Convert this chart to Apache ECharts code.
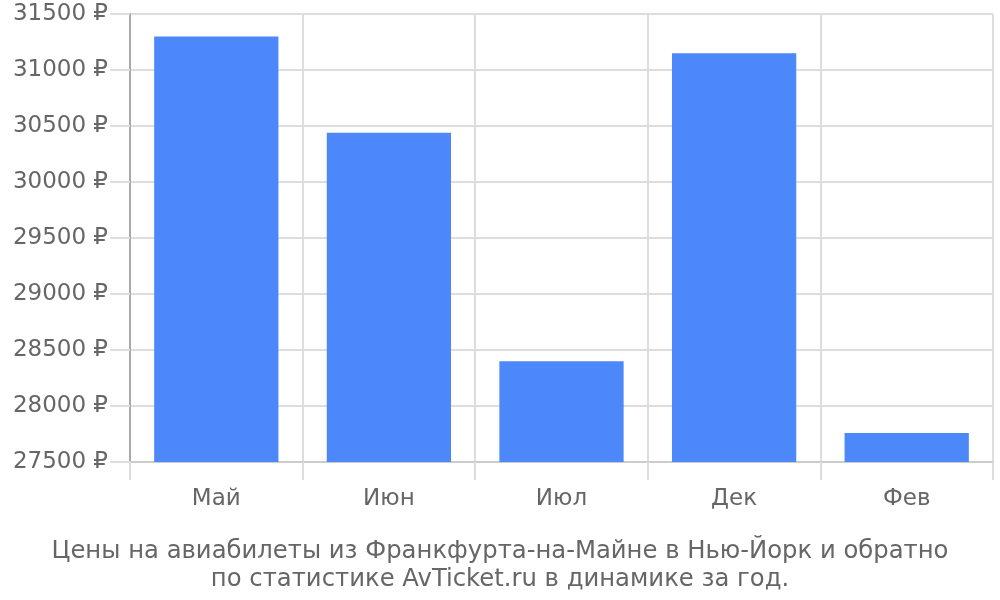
<!DOCTYPE html>
<html><head><meta charset="utf-8">
<script src="https://cdn.jsdelivr.net/npm/echarts@6/dist/echarts.min.js"></script>
<style>html,body{margin:0;padding:0;background:#fff}#c{width:1000px;height:600px}</style>
</head><body><div id="c"></div>
<script>
const categories = ["Май", "Июн", "Июл", "Дек", "Фев"];
const prices = [31300, 30440, 28400, 31150, 27760];
const yMin = 27500, yMax = 31500, yStep = 500;
const titleLines = ["Цены на авиабилеты из Франкфурта-на-Майне в Нью-Йорк и обратно", "по статистике AvTicket.ru в динамике за год."];

const chart = echarts.init(document.getElementById('c'), null, {renderer: 'canvas'});
const font = 'DejaVu Sans';
chart.setOption({
  animation: false,
  textStyle: {fontFamily: font},
  title: {
    text: titleLines.join('\n'),
    left: 'center', top: 533,
    textStyle: {fontFamily: font, fontSize: 24.3, fontWeight: 'normal', color: '#666', lineHeight: 28}
  },
  grid: {left: 130, right: 7, top: 14, bottom: 138},
  xAxis: {
    type: 'category', data: categories,
    axisLine: {show: true, lineStyle: {color: '#ccc', width: 2}},
    axisTick: {show: true, length: 18, lineStyle: {color: '#ddd', width: 2}},
    splitLine: {show: true, lineStyle: {color: '#ddd', width: 2}},
    axisLabel: {fontFamily: font, fontSize: 23, color: '#666', margin: 26}
  },
  yAxis: {
    type: 'value', min: yMin, max: yMax, interval: yStep,
    axisLine: {show: true, lineStyle: {color: '#aaa', width: 2}},
    axisTick: {show: true, length: 20, lineStyle: {color: '#ddd', width: 2}},
    splitLine: {show: true, lineStyle: {color: '#ddd', width: 2}},
    axisLabel: {fontFamily: font, fontSize: 23, color: '#666', margin: 22, formatter: v => v + ' ₽'}
  },
  series: [{
    type: 'bar', data: prices, barCategoryGap: '28%',
    itemStyle: {color: '#4c88fa'}
  }]
});
</script></body></html>
